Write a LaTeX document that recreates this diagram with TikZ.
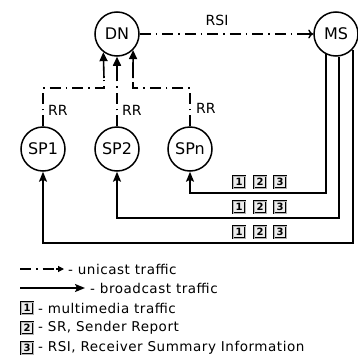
\documentclass[tikz,border=0pt]{standalone}
\usepackage{fontspec}
\setmainfont{DejaVu Sans}
\newfontfamily\legfont{DejaVu Sans}[LetterSpace=4]
\usetikzlibrary{arrows.meta,calc}
\begin{document}
\begin{tikzpicture}[x=1pt,y=1pt,
  dd/.style={line width=1.4pt, dash pattern=on 11pt off 5pt on 1.5pt off 5pt},
  sol/.style={line width=1.6pt, -{Triangle[length=9pt,width=8pt]}},
  opentip/.style={line width=1.4pt, -{To[length=5pt,width=9pt,line width=1.4pt]}},
  bc/.style={line width=1.8pt, -{Stealth[length=10pt,width=8pt,inset=2pt]}},
  stn/.style={circle, draw, line width=1.5pt, minimum size=44pt, inner sep=0pt, fill=white, font=\fontsize{16}{16}\selectfont},
  lbl/.style={font=\fontsize{14}{14}\selectfont, inner sep=0pt},
  pk/.style={draw=black, line width=1pt, double=gray!60, double distance=0.8pt, fill=gray!15, minimum width=12pt, minimum height=12pt, inner sep=0pt, font=\fontsize{10}{10}\selectfont\bfseries},
  leg/.style={font=\legfont\fontsize{13.5}{13.5}\selectfont, inner sep=0pt, anchor=west}
]
\useasboundingbox (0,0) rectangle (358,-359);
% stations
\node[stn] (DN) at (117,-34) {DN};
\node[stn] (MS) at (336,-34) {MS};
\node[stn] (SP1) at (43,-149) {SP1};
\node[stn] (SP2) at (117,-149) {SP2};
\node[stn] (SPn) at (190,-149) {SPn};
% RSI unicast
\coordinate (rsitip) at ($(MS.west)+(-12,0)$);
\draw[dd] (DN) -- (MS);
\draw[opentip] (rsitip) -- (MS);
\node[lbl] (rsi) at (217,-20) {RSI};
% RR unicast
\coordinate (r1) at (43,-88);
\coordinate (r1b) at (104,-88);
\coordinate (r3) at (190,-88);
\coordinate (r3b) at (133,-88);
\coordinate (a1) at (104,-78);
\coordinate (a2) at (117,-78);
\coordinate (a3) at (133,-78);
\draw[dd] (SP1) -- (r1) -- (r1b) -- (a1);
\draw[dd] (SP2) -- (a2);
\draw[dd] (SPn) -- (r3) -- (r3b) -- (a3);
\draw[sol] (a1) -- (DN.-127);
\draw[sol] (a2) -- (DN);
\draw[sol] (a3) -- (DN.-45);
\node[lbl,anchor=west] (rr1) at (48,-110) {RR};
\node[lbl,anchor=west] (rr2) at (122,-110) {RR};
\node[lbl,anchor=west] (rr3) at (196,-108) {RR};
% broadcast
\coordinate (b1) at (190,-193);
\coordinate (b2) at (117,-218);
\coordinate (b3) at (43,-243);
\draw[bc] (MS.-117) |- (b1) -- (SPn);
\draw[bc] (MS.-82) |- (b2) -- (SP2);
\draw[bc] (MS.-43) |- (b3) -- (SP1);
\foreach \r/\y in {a/-182,b/-207,c/-232}{
  \node[pk] (p1\r) at (239,\y) {1};
  \node[pk] (p2\r) at (260,\y) {2};
  \node[pk] (p3\r) at (280,\y) {3};
}
% legend
\coordinate (lu1) at (20,-269);
\coordinate (lu2) at (56,-269);
\coordinate (lu3) at (64,-269);
\draw[dd, line width=1.2pt] (lu1) -- (lu2);
\draw[line width=1.2pt, -{Triangle[length=6pt,width=6pt]}] (lu2) -- (lu3);
\node[leg] (tu) at (68,-269) {- unicast traffic};
\coordinate (lb1) at (20,-288);
\coordinate (lb2) at (85,-288);
\draw[bc] (lb1) -- (lb2);
\node[leg] (tb) at (90,-288) {- broadcast traffic};
\node[pk] (k1) at (27,-308) {1};
\node[leg] (t1) at (38,-308) {- multimedia traffic};
\node[pk] (k2) at (27,-328) {2};
\node[leg] (t2) at (38,-328) {- SR, Sender Report};
\node[pk] (k3) at (27,-348) {3};
\node[leg] (t3) at (38,-348) {- RSI, Receiver Summary Information};
\end{tikzpicture}
\end{document}
